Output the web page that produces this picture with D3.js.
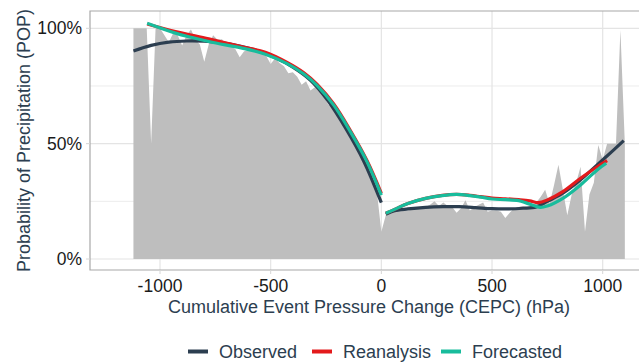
<!DOCTYPE html>
<html>
<head>
<meta charset="utf-8">
<script src="https://cdn.jsdelivr.net/npm/d3@7"></script>
<style>
  html, body { margin: 0; padding: 0; background: #fff; }
  svg { display: block; font-family: "Liberation Sans", Arial, sans-serif; }
</style>
</head>
<body>
<svg id="chart" width="639" height="362"></svg>
<script>
// Observed POP by cumulative event pressure change (hPa), 20 hPa bins
const binCepc = d3.range(-1120, 1101, 20);
const binPop = [
  100, 100, 100, 100, 50, 100, 100, 97, 94, 98, 97, 92.5, 97, 99.5, 95, 93, 85.5, 93, 97, 95,
  95.3, 93, 92, 91, 87.5, 90, 90.5, 91, 91, 89, 88, 84.5, 87, 85, 83.5, 80.5, 81, 79, 75.5, 77,
  73, 74.5, 72.5, 70.5, 67, 66, 63.5, 60.5, 57.5, 54, 51, 47.5, 43.5, 39.5, 34.5, 29, 11.8, 19, 20.5, 20.5,
  20.5, 21, 21, 21.5, 22, 22, 22.5, 23.5, 25, 23, 24.5, 23, 22.5, 20, 22, 25.5, 21, 22.5, 23.5, 24.5,
  20.5, 21, 21, 20.5, 17.8, 20, 22, 22.5, 23, 22.5, 23, 24.5, 27, 30, 24, 32, 40.8, 30, 19, 28,
  33, 40, 11.8, 28, 33, 49.4, 43, 50, 50, 50, 99.3, 50
];

// Smoothed fits, split at CEPC = 0 (falling / rising pressure)
const observedFalling = [[-1120, 90.2], [-1040, 92.6], [-960, 94.0], [-880, 94.5], [-800, 94.4], [-720, 93.7], [-640, 92.3], [-560, 90.3], [-480, 87.3], [-400, 83.2], [-320, 77.5], [-240, 68.5], [-160, 56.5], [-80, 42.5], [0, 24.4]];
const observedRising = [[20, 19.4], [60, 20.9], [120, 21.7], [200, 22.4], [280, 22.7], [350, 22.7], [425, 22.3], [500, 21.8], [575, 21.7], [640, 22.0], [700, 22.6], [750, 25.0], [820, 28.5], [900, 34.3], [975, 40.8], [1050, 47.3], [1095, 51.3]];
const reanalysisFalling = [[-1058, 101.9], [-930, 98.6], [-780, 95.4], [-630, 92.0], [-524, 89.6], [-426, 85.2], [-350, 80.7], [-290, 75.7], [-215, 67.2], [-140, 55.7], [-65, 42.7], [0, 28.5]];
const reanalysisRising = [[20, 19.8], [60, 21.5], [120, 24.1], [200, 26.3], [275, 27.6], [340, 28.0], [400, 27.6], [450, 27.0], [500, 26.4], [560, 26.1], [620, 25.7], [670, 25.2], [710, 24.4], [750, 25.6], [820, 29.2], [900, 35.0], [975, 40.0], [1020, 42.6]];
const forecastedFalling = [[-1058, 102.2], [-930, 97.9], [-855, 96.0], [-780, 94.3], [-705, 92.8], [-629, 91.4], [-524, 88.8], [-426, 84.7], [-350, 80.2], [-290, 75.2], [-215, 66.7], [-140, 55.2], [-65, 42.2], [0, 27.7]];
const forecastedRising = [[20, 19.8], [60, 21.5], [120, 24.1], [200, 26.3], [275, 27.5], [340, 28.0], [400, 27.5], [450, 26.8], [500, 26.0], [560, 25.7], [620, 25.3], [660, 24.1], [718, 22.4], [750, 23.0], [820, 26.3], [900, 32.1], [975, 38.6], [1016, 41.5]];

const xTicks = [-1000, -500, 0, 500, 1000];
const yTicks = [0, 50, 100];
const yMinor = [25, 75];
const seriesNames = ["Observed", "Reanalysis", "Forecasted"];
const seriesColors = ["#2c3e50", "#e31a1c", "#18bc9c"];

const svg = d3.select("#chart");
const panel = { left: 90, top: 11, right: 660, bottom: 270 };

const x = d3.scaleLinear().domain([-1000, 1000]).range([160, 602.7]);
const y = d3.scaleLinear().domain([0, 100]).range([259, 28.3]);

svg.append("defs").append("clipPath").attr("id", "panel-clip")
  .append("rect")
  .attr("x", panel.left).attr("y", panel.top)
  .attr("width", panel.right - panel.left).attr("height", panel.bottom - panel.top);

// grid
const grid = svg.append("g");
grid.selectAll(".ymin").data(yMinor).join("line")
  .attr("x1", panel.left).attr("x2", panel.right)
  .attr("y1", d => y(d)).attr("y2", d => y(d))
  .attr("stroke", "#ececec").attr("stroke-width", 1);
grid.selectAll(".ymaj").data(yTicks).join("line")
  .attr("x1", panel.left).attr("x2", panel.right)
  .attr("y1", d => y(d)).attr("y2", d => y(d))
  .attr("stroke", "#e4e4e4").attr("stroke-width", 1.2);
grid.selectAll(".xmaj").data(xTicks).join("line")
  .attr("y1", panel.top).attr("y2", panel.bottom)
  .attr("x1", d => x(d)).attr("x2", d => x(d))
  .attr("stroke", "#e4e4e4").attr("stroke-width", 1.2);

const plot = svg.append("g").attr("clip-path", "url(#panel-clip)");

// binned POP as a filled area
const area = d3.area()
  .x((d, i) => x(binCepc[i]))
  .y0(y(0))
  .y1(d => y(d));
plot.append("path")
  .datum(binPop)
  .attr("d", area)
  .attr("fill", "#bebebe");

// smoothed fits
const line = d3.line()
  .x(d => x(d[0]))
  .y(d => y(d[1]))
  .curve(d3.curveCatmullRom.alpha(0.5));
const fits = [
  [observedFalling, observedRising],
  [reanalysisFalling, reanalysisRising],
  [forecastedFalling, forecastedRising]
];
fits.forEach((segs, k) => {
  segs.forEach(seg => {
    plot.append("path")
      .datum(seg)
      .attr("d", line)
      .attr("fill", "none")
      .attr("stroke", seriesColors[k])
      .attr("stroke-width", 3.2)
      .attr("stroke-linecap", "butt");
  });
});

// panel border (left, top, bottom)
svg.append("path")
  .attr("d", `M${panel.right},${panel.top}H${panel.left}V${panel.bottom}H${panel.right}`)
  .attr("fill", "none").attr("stroke", "#a8a8a8").attr("stroke-width", 1.2);

// ticks
svg.append("g").selectAll("line").data(yTicks).join("line")
  .attr("x1", panel.left - 4).attr("x2", panel.left)
  .attr("y1", d => y(d)).attr("y2", d => y(d))
  .attr("stroke", "#d6d6d6");
svg.append("g").selectAll("line").data(xTicks).join("line")
  .attr("x1", d => x(d)).attr("x2", d => x(d))
  .attr("y1", panel.bottom).attr("y2", panel.bottom + 4)
  .attr("stroke", "#d6d6d6");

// tick labels
svg.append("g").selectAll("text").data(yTicks).join("text")
  .attr("x", 82).attr("y", d => y(d))
  .attr("text-anchor", "end").attr("dominant-baseline", "central")
  .attr("font-size", 17.5).attr("fill", "#1a1a1a")
  .text(d => d + "%");
svg.append("g").selectAll("text").data(xTicks).join("text")
  .attr("x", d => x(d)).attr("y", 285.5)
  .attr("text-anchor", "middle").attr("dominant-baseline", "central")
  .attr("font-size", 17.5).attr("fill", "#1a1a1a")
  .text(d => d);

// axis titles
svg.append("text")
  .attr("x", 369).attr("y", 306.5)
  .attr("text-anchor", "middle").attr("dominant-baseline", "central")
  .attr("font-size", 18).attr("fill", "#2c3e50")
  .text("Cumulative Event Pressure Change (CEPC) (hPa)");
svg.append("text")
  .attr("transform", "translate(24,140.5) rotate(-90)")
  .attr("text-anchor", "middle").attr("dominant-baseline", "central")
  .attr("font-size", 18).attr("fill", "#2c3e50")
  .text("Probability of Precipitation (POP)");

// legend
const legendX = [188, 312, 441];
const legend = svg.append("g");
seriesNames.forEach((name, i) => {
  legend.append("line")
    .attr("x1", legendX[i]).attr("x2", legendX[i] + 20)
    .attr("y1", 351.5).attr("y2", 351.5)
    .attr("stroke", seriesColors[i]).attr("stroke-width", 4);
  legend.append("text")
    .attr("x", legendX[i] + 31).attr("y", 352)
    .attr("dominant-baseline", "central")
    .attr("font-size", 18).attr("fill", "#2c3e50")
    .text(name);
});
</script>
</body>
</html>
